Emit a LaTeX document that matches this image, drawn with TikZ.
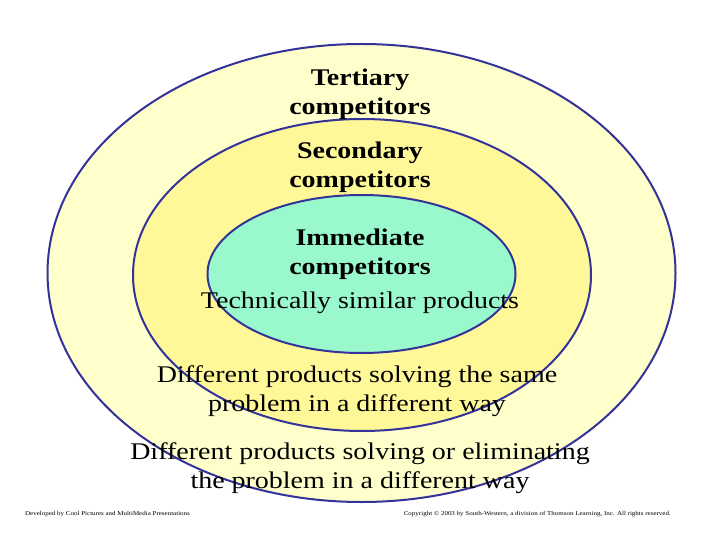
\documentclass[tikz,border=0pt]{standalone}
\usepackage{fontspec}
\setmainfont{Liberation Serif}[FakeStretch=1.17]
\definecolor{ringline}{HTML}{333399}
\definecolor{outerfill}{HTML}{FFFFCC}
\definecolor{midfill}{HTML}{FFF899}
\definecolor{innerfill}{HTML}{99F8CC}
\tikzset{
  ring/.style={draw=ringline, line width=2bp},
  head/.style={align=center, font=\fontsize{24}{29}\selectfont\bfseries, inner sep=0pt},
  desc/.style={align=center, font=\fontsize{24}{29}\selectfont, inner sep=0pt},
  foot/.style={font=\fontsize{6}{7}\selectfont, inner sep=0pt},
}
\begin{document}
\begin{tikzpicture}[x=1bp,y=-1bp]
\useasboundingbox[fill=white] (0,0) rectangle (720,540);
\path[ring, fill=outerfill] (361.5,273) ellipse [x radius=314, y radius=229];
\path[ring, fill=midfill] (362,275) ellipse [x radius=229, y radius=156];
\path[ring, fill=innerfill] (361.5,274) ellipse [x radius=154, y radius=79];
\node[head] (tert) at (360,94) {Tertiary\\competitors};
\node[head] (sec) at (360,167.5) {Secondary\\competitors};
\node[head] (imm) at (360,254) {Immediate\\competitors};
\node[desc] (tech) at (360,303) {Technically similar products};
\node[desc] (same) at (357,391) {Different products solving the same\\problem in a different way};
\node[desc] (elim) at (360,468) {Different products solving or eliminating\\the problem in a different way};
\node[foot, anchor=west] (devl) at (25,514) {Developed by Cool Pictures and MultiMedia Presentations};
\node[foot, anchor=east] (copy) at (671,514) {Copyright © 2003 by South-Western, a division of Thomson Learning, Inc. All rights reserved.};
\end{tikzpicture}
\end{document}
